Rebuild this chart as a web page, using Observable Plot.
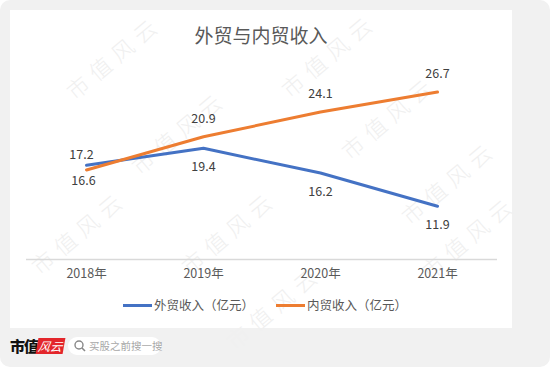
<!DOCTYPE html>
<html><head><meta charset="utf-8">
<script src="https://cdn.jsdelivr.net/npm/d3@7"></script>
<script src="https://cdn.jsdelivr.net/npm/@observablehq/plot@0.6"></script>
<style>
html,body{margin:0;padding:0;background:#fff;}
body{width:550px;height:367px;position:relative;overflow:hidden;font-family:"Noto Sans CJK SC","Noto Sans",sans-serif;}
#bg{position:absolute;left:0;top:0;width:550px;height:367px;background:#f1f1f1;border-radius:10px;}
#card{position:absolute;left:10px;top:10px;width:502px;height:318px;background:#fff;}
#title{position:absolute;left:10px;width:502px;top:22px;text-align:center;font-size:19px;color:#595959;line-height:26px;}
#chart{position:absolute;left:10px;top:50px;}
#legend{position:absolute;left:14px;width:502px;top:296px;display:flex;justify-content:center;gap:22px;font-size:12.5px;color:#595959;line-height:18px;white-space:nowrap;}
#legend span.sw{display:inline-block;width:29px;height:3px;vertical-align:middle;margin-right:2px;position:relative;top:-1px;}
.wm{position:absolute;font-size:22px;font-weight:300;color:#f0f0f0;transform:rotate(-40deg);transform-origin:center;white-space:nowrap;letter-spacing:7px;pointer-events:none;}
#footer{position:absolute;left:10px;top:336px;height:20px;width:160px;white-space:nowrap;}
#logo1{position:absolute;left:0;top:0;font-size:15px;font-weight:900;color:#111;line-height:20px;letter-spacing:-1px;white-space:nowrap;}
#logo2{position:absolute;left:27px;top:2px;width:27px;height:16px;background:#e3262b;color:#fff;font-size:12px;font-style:italic;line-height:16px;text-align:center;transform:skewX(-10deg);white-space:nowrap;}
#pill{position:absolute;left:58px;top:1px;width:93px;height:18px;background:#fff;border-radius:9px;}
#pill svg{position:absolute;left:6px;top:3px;}
#pill span{position:absolute;left:21px;top:0;font-size:10.5px;color:#a8a8a8;line-height:18px;white-space:nowrap;}
</style></head>
<body>
<div id="bg"></div>
<div id="card"></div>
<div id="wms"></div>
<div id="title">外贸与内贸收入</div>
<div id="chart"></div>
<div id="legend"></div>
<div id="footer"><div id="logo1">市值</div><div id="logo2">风云</div>
<div id="pill"><svg width="12" height="12"><circle cx="5" cy="5" r="4" fill="none" stroke="#888" stroke-width="1.4"/><line x1="8" y1="8" x2="11" y2="11" stroke="#888" stroke-width="1.6"/></svg><span>买股之前搜一搜</span></div></div>
<script>
const years = ["2018年", "2019年", "2020年", "2021年"];
const foreignName = "外贸收入（亿元）";
const domesticName = "内贸收入（亿元）";
const foreign = [17.2, 19.4, 16.2, 11.9];
const domestic = [16.6, 20.9, 24.1, 26.7];
const yMin = 5, yMax = 30;
const colors = {[foreignName]: "#4472C4", [domesticName]: "#ED7D31"};
const series = [foreignName, domesticName];

const rows = [];
years.forEach((y, i) => {
  rows.push({year: y, i, series: foreignName, value: foreign[i]});
  rows.push({year: y, i, series: domesticName, value: domestic[i]});
});
rows.forEach(r => {
  const other = rows.find(o => o.i === r.i && o.series !== r.series);
  r.above = r.value >= other.value;
});

const fmt = d3.format(".1f");
const textBase = {x: "year", y: "value", text: d => fmt(d.value), fill: "#404040", fontSize: 12.5, fontFamily: "Noto Sans CJK SC, Noto Sans, sans-serif"};

const chart = Plot.plot({
  width: 502, height: 240,
  marginTop: 16, marginBottom: 31, marginLeft: 16, marginRight: 15,
  x: {type: "point", domain: years, padding: 0.5, axis: null, label: null},
  y: {domain: [yMin, yMax], axis: null, label: null},
  color: {domain: series, range: series.map(s => colors[s])},
  style: {fontFamily: "Noto Sans CJK SC, Noto Sans, sans-serif", background: "transparent", overflow: "visible"},
  marks: [
    Plot.ruleY([yMin], {stroke: "#d9d9d9", strokeWidth: 1.5}),
    Plot.axisX({tickSize: 0, tickPadding: 10, fontSize: 12.5, fill: "#595959", color: "#595959", label: null}),
    Plot.line(rows, {x: "year", y: "value", z: "series", stroke: "series", strokeWidth: 3, strokeLinecap: "round", strokeLinejoin: "round"}),
    Plot.text(rows.filter(r => r.above && r.i > 0), {...textBase, dy: -18}),
    Plot.text(rows.filter(r => !r.above && r.i > 0), {...textBase, dy: 19}),
    Plot.text(rows.filter(r => r.above && r.i === 0), {...textBase, dy: -10, dx: -5}),
    Plot.text(rows.filter(r => !r.above && r.i === 0), {...textBase, dy: 11, dx: -3})
  ]
});
document.getElementById("chart").appendChild(chart);

const legend = document.getElementById("legend");
series.forEach(s => {
  const d = document.createElement("div");
  d.innerHTML = `<span class="sw" style="background:${colors[s]}"></span>${s}`;
  legend.appendChild(d);
});

// faint watermarks (decoration)
const wmPos = [[55,40],[270,38],[120,115],[330,100],[390,165],[170,215],[410,220],[215,290],[20,215]];
const wms = document.getElementById("wms");
wmPos.forEach(([l,t]) => {
  const w = document.createElement("div");
  w.className = "wm"; w.textContent = "市值风云";
  w.style.left = l + "px"; w.style.top = t + "px";
  wms.appendChild(w);
});
</script>
</body></html>
